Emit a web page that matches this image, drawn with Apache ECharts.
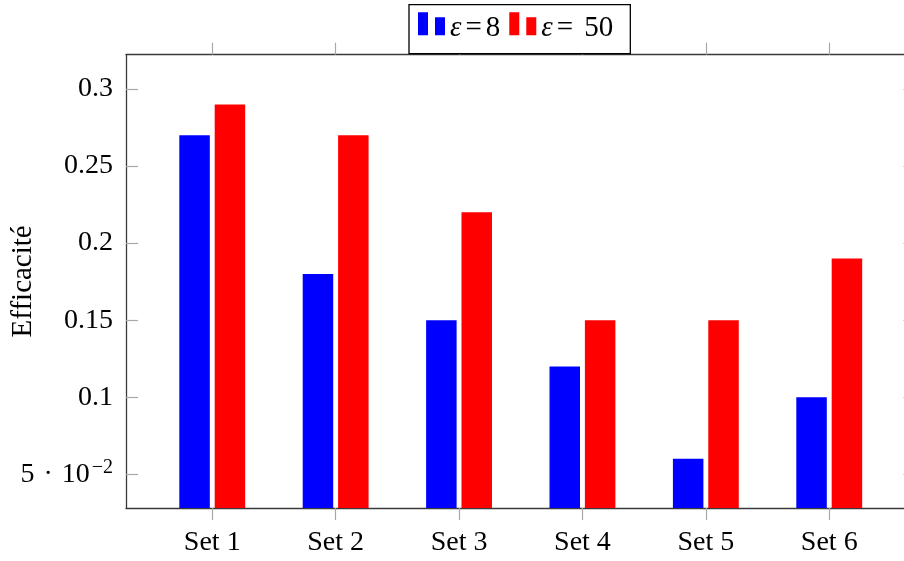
<!DOCTYPE html>
<html>
<head>
<meta charset="utf-8">
<script src="https://cdn.jsdelivr.net/npm/echarts@6/dist/echarts.min.js"></script>
<style>
html,body{margin:0;padding:0;background:#fff;}
#chart{width:904px;height:561px;}
</style>
</head>
<body>
<div id="chart"></div>
<script>
const categories = ['Set 1', 'Set 2', 'Set 3', 'Set 4', 'Set 5', 'Set 6'];
const eps8 = [0.27, 0.18, 0.15, 0.12, 0.06, 0.10];
const eps50 = [0.29, 0.27, 0.22, 0.15, 0.15, 0.19];
const yTicks = [0.05, 0.1, 0.15, 0.2, 0.25, 0.3];
const yTickLabels = ['5 · 10^−2', '0.1', '0.15', '0.2', '0.25', '0.3'];
const seriesNames = ['ε=8', 'ε= 50'];

const FONT = 'Liberation Serif';
const catPos = categories.map((c, i) => i + 1);
const axisColor = '#3a3a3a';
const tickColor = '#a8a8a8';

const chart = echarts.init(document.getElementById('chart'), null, {renderer: 'canvas'});

function yLabelFmt(v) {
  const i = yTicks.findIndex(t => Math.abs(t - v) < 1e-9);
  const s = i >= 0 ? yTickLabels[i] : String(v);
  if (s.indexOf('^') >= 0) {
    const parts = s.split('^');
    const base = parts[0].split(' · ');
    return '{b|' + base[0] + '}{d|·}{b|' + base[1] + '}{s|' + parts[1] + '}';
  }
  return '{b|' + s + '}';
}

function legendFmt(name) {
  const rest = name.slice(2);
  return '{e|' + name[0] + '}{q|' + name[1] + '}{n|' + rest + '}';
}

const option = {
  animation: false,
  backgroundColor: '#ffffff',
  textStyle: {fontFamily: FONT},
  grid: {left: 126, top: 54.7, width: 789.5, height: 453.3, containLabel: false, outerBoundsMode: 'none'},
  legend: {
    left: 409, top: 4.7,
    data: seriesNames,
    itemWidth: 27, itemHeight: 23, itemGap: 9,
    padding: [0, 17, 11, 9],
    backgroundColor: '#ffffff',
    borderColor: '#000000', borderWidth: 1.3, borderRadius: 0,
    icon: 'path://M0,0H10V23H0Z M17,5H27V23H17Z',
    selectedMode: false,
    formatter: legendFmt,
    textStyle: {
      fontFamily: FONT, fontSize: 29, color: '#000',
      rich: {
        e: {fontFamily: FONT, fontStyle: 'italic', fontSize: 29, color: '#000', lineHeight: 28, padding: [9, 0, 0, 0]},
        q: {fontFamily: FONT, fontSize: 29, color: '#000', lineHeight: 28, padding: [9, 4, 0, 4]},
        n: {fontFamily: FONT, fontSize: 29, color: '#000', lineHeight: 28, padding: [9, 0, 0, 0]}
      }
    }
  },
  xAxis: [{
    type: 'value', position: 'bottom',
    min: 0.301, max: 6.699,
    axisLine: {show: true, lineStyle: {color: axisColor, width: 1.3}},
    axisTick: {show: true, inside: false, length: 12, customValues: catPos, lineStyle: {color: tickColor, width: 1.2}},
    axisLabel: {
      show: true, customValues: catPos, margin: 21,
      fontFamily: FONT, fontSize: 28, color: '#000',
      formatter: v => categories[Math.round(v) - 1] || ''
    },
    splitLine: {show: false}
  }, {
    type: 'value', position: 'top',
    min: 0.301, max: 6.699,
    axisLine: {show: true, lineStyle: {color: axisColor, width: 1.3}},
    axisTick: {show: true, inside: false, length: 12, customValues: catPos, lineStyle: {color: tickColor, width: 1.2}},
    axisLabel: {show: false},
    splitLine: {show: false}
  }],
  yAxis: [{
    type: 'value', position: 'left',
    min: 0.0281, max: 0.3223,
    name: 'Efficacité', nameLocation: 'middle', nameRotate: 90, nameGap: 88,
    nameMoveOverlap: false,
    nameTextStyle: {fontFamily: FONT, fontSize: 29, color: '#000'},
    axisLine: {show: true, lineStyle: {color: axisColor, width: 1.3}},
    axisTick: {show: true, inside: true, length: 12, customValues: yTicks, lineStyle: {color: tickColor, width: 1.2}},
    axisLabel: {
      show: true, customValues: yTicks, margin: 13, color: '#000',
      formatter: yLabelFmt,
      rich: {
        b: {fontFamily: FONT, fontSize: 28, color: '#000'},
        d: {fontFamily: FONT, fontSize: 28, color: '#000', padding: [0, 9, 0, 9]},
        s: {fontFamily: FONT, fontSize: 20, color: '#000', padding: [0, 0, 13, 2]}
      }
    },
    splitLine: {show: false}
  }, {
    type: 'value', position: 'right',
    min: 0.0281, max: 0.3223,
    axisLine: {show: true, lineStyle: {color: axisColor, width: 1.3}},
    axisTick: {show: true, inside: true, length: 12, customValues: yTicks, lineStyle: {color: tickColor, width: 1.2}},
    axisLabel: {show: false},
    splitLine: {show: false}
  }],
  series: [{
    name: seriesNames[0], type: 'bar', xAxisIndex: 0, yAxisIndex: 0,
    barWidth: 30.5, barGap: '16%', clip: true,
    itemStyle: {color: '#0000ff'},
    data: eps8.map((v, i) => [catPos[i], v])
  }, {
    name: seriesNames[1], type: 'bar', xAxisIndex: 0, yAxisIndex: 0,
    barWidth: 30.5, barGap: '16%', clip: true,
    itemStyle: {color: '#ff0000'},
    data: eps50.map((v, i) => [catPos[i], v])
  }]
};
chart.setOption(option);
</script>
</body>
</html>
